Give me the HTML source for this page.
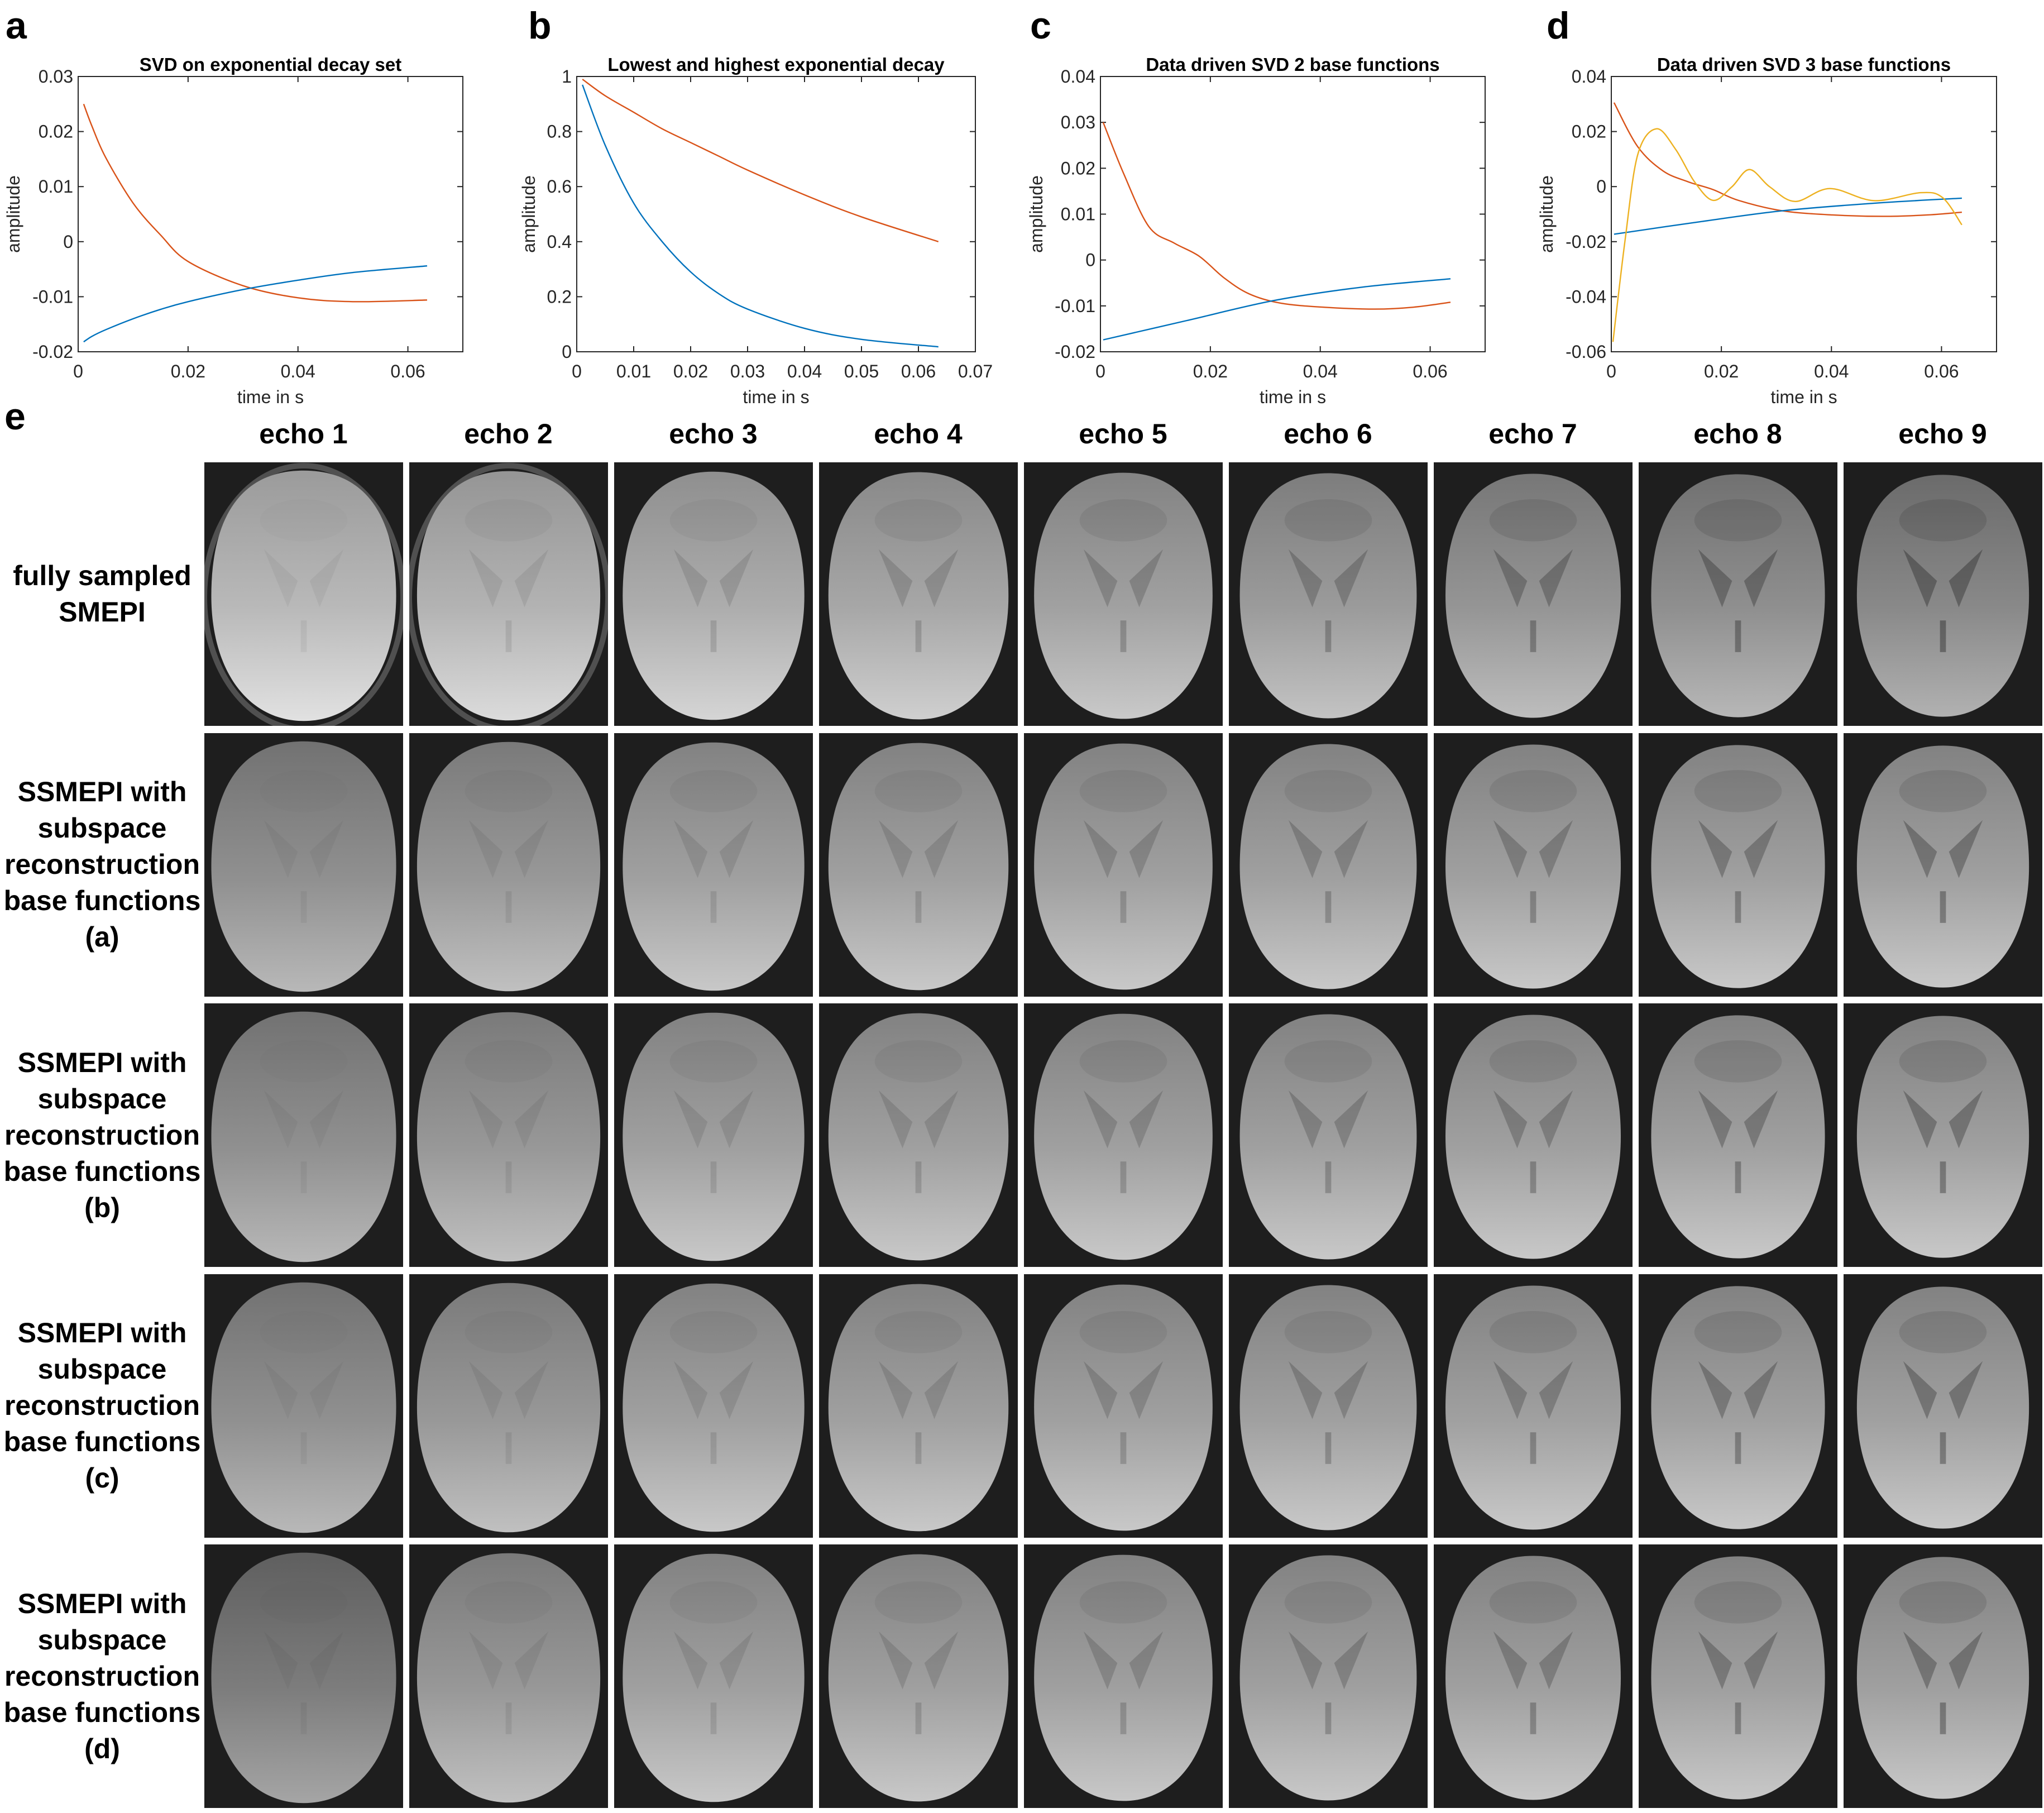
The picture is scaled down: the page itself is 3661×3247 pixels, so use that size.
<!DOCTYPE html>
<html><head><meta charset="utf-8">
<style>
html,body{margin:0;padding:0;background:#fff;}
body{width:3661px;height:3247px;position:relative;overflow:hidden;font-family:"Liberation Sans",sans-serif;}
.pl{position:absolute;font-weight:bold;font-size:68px;line-height:1;color:#000;}
.echo{position:absolute;top:748px;width:355px;text-align:center;font-weight:bold;font-size:50px;}
.rowlab{position:absolute;left:0;width:366px;text-align:center;font-weight:bold;font-size:50px;line-height:65px;}
.cell{position:absolute;}
</style></head>
<body>
<svg id="charts" width="3661" height="760" style="position:absolute;left:0;top:0" font-family="Liberation Sans, sans-serif"></svg>
<div class="pl" style="left:10px;top:12px">a</div>
<div class="pl" style="left:946px;top:12px">b</div>
<div class="pl" style="left:1845px;top:12px">c</div>
<div class="pl" style="left:2770px;top:12px">d</div>
<div class="pl" style="left:8px;top:712px">e</div>
<div id="grid"></div>
<script>
// ---------- chart data ----------
const tA=[0.001,0.0025,0.005,0.01,0.015,0.02,0.03,0.04,0.05,0.0635];
const aOrange=[0.025,0.021,0.0153,0.007,0.0012,-0.0036,-0.008,-0.0102,-0.0109,-0.0106];
const aBlue=[-0.0182,-0.0172,-0.0160,-0.0140,-0.0123,-0.0109,-0.0087,-0.0070,-0.0056,-0.0044];
const tB=[0.001,0.005,0.01,0.015,0.02,0.025,0.03,0.04,0.05,0.0635];
const bBlue=[0.97,0.75,0.54,0.40,0.29,0.21,0.155,0.085,0.045,0.018];
const bOrange=[0.99,0.93,0.87,0.81,0.76,0.71,0.66,0.57,0.49,0.40];
const tC=[0.0005,0.0042,0.0088,0.0134,0.018,0.0225,0.0271,0.0328,0.0408,0.05,0.0568,0.0637];
const cOrange=[0.030,0.0189,0.0073,0.0037,0.0008,-0.0039,-0.0074,-0.0094,-0.0103,-0.0107,-0.0103,-0.0092];
const tC2=[0.0005,0.0157,0.0317,0.0477,0.0637];
const cBlue=[-0.0174,-0.0132,-0.0088,-0.0059,-0.0041];
const tD=[0.0005,0.0048,0.0094,0.0139,0.0185,0.0231,0.0311,0.0402,0.0494,0.0574,0.0637];
const dOrange=[0.0305,0.0145,0.0057,0.0018,-0.0011,-0.0050,-0.0088,-0.0103,-0.0108,-0.0103,-0.0093];
const tD2=[0.0005,0.016,0.031,0.048,0.0637];
const dBlue=[-0.0173,-0.0128,-0.0088,-0.0060,-0.0042];
const tY=[0.0003,0.0025,0.0048,0.0082,0.0117,0.0151,0.0185,0.0219,0.0251,0.0288,0.0334,0.0397,0.0477,0.0562,0.0602,0.0637];
const dYellow=[-0.0564,-0.0195,0.0116,0.0210,0.0135,0.0018,-0.0050,-0.0001,0.0062,-0.0001,-0.0054,-0.0007,-0.0051,-0.0022,-0.0040,-0.0139];
const ticksA=[0.03,0.02,0.01,0,-0.01,-0.02];
const ticksB=[0,0.2,0.4,0.6,0.8,1];
const ticksC=[0.04,0.03,0.02,0.01,0,-0.01,-0.02];
const ticksD=[0.04,0.02,0,-0.02,-0.04,-0.06];
const xTicks=[0,0.02,0.04,0.06];
const xTicksB=[0,0.01,0.02,0.03,0.04,0.05,0.06,0.07];
const BLUE='#0072BD',ORANGE='#D95319',YEL='#EDB120';
const NS='http://www.w3.org/2000/svg';
const svg=document.getElementById('charts');
function mk(tag,attrs,parent){const e=document.createElementNS(NS,tag);for(const k in attrs)e.setAttribute(k,attrs[k]);(parent||svg).appendChild(e);return e;}
function crPath(pts){let d='M'+pts[0][0]+','+pts[0][1];
 for(let i=0;i<pts.length-1;i++){const p0=pts[i-1]||pts[i],p1=pts[i],p2=pts[i+1],p3=pts[i+2]||p2;
  const c1=[p1[0]+(p2[0]-p0[0])/6,p1[1]+(p2[1]-p0[1])/6],c2=[p2[0]-(p3[0]-p1[0])/6,p2[1]-(p3[1]-p1[1])/6];
  d+=' C'+c1[0]+','+c1[1]+' '+c2[0]+','+c2[1]+' '+p2[0]+','+p2[1];}
 return d;}
function chart(name,L,R,ylo,yhi,yt,xt,title,ylabOff,series){
 const T=137,B=630;
 const g=mk('g',{});
 
 
 const X=v=>L+(v-0)/(0.07)*(R-L), Y=v=>B-(v-ylo)/(yhi-ylo)*(B-T);
 mk('rect',{x:L,y:T,width:R-L,height:B-T,fill:'#fff',stroke:'#262626','stroke-width':2},g);
 yt.forEach(v=>{const y=Y(v);
  mk('line',{x1:L,x2:L+10,y1:y,y2:y,stroke:'#262626','stroke-width':2},g);
  mk('line',{x1:R,x2:R-10,y1:y,y2:y,stroke:'#262626','stroke-width':2},g);
  const t=mk('text',{x:L-9,y:y+11,'text-anchor':'end','font-size':32,fill:'#262626'},g);t.textContent=String(v);
  });
 xt.forEach(v=>{const x=X(v);
  mk('line',{x1:x,x2:x,y1:B,y2:B-10,stroke:'#262626','stroke-width':2},g);
  mk('line',{x1:x,x2:x,y1:T,y2:T+10,stroke:'#262626','stroke-width':2},g);
  const t=mk('text',{x:x,y:B+46,'text-anchor':'middle','font-size':32,fill:'#262626'},g);t.textContent=String(v);
  });
 const tt=mk('text',{x:(L+R)/2,y:127,'text-anchor':'middle','font-size':33,'font-weight':'bold',fill:'#000'},g);tt.textContent=title;
 
 const xl=mk('text',{x:(L+R)/2,y:722,'text-anchor':'middle','font-size':32,fill:'#262626'},g);xl.textContent='time in s';
 
 const yl=mk('text',{x:0,y:0,'text-anchor':'middle','font-size':32,fill:'#262626',transform:'translate('+(L-ylabOff+10)+','+((T+B)/2)+') rotate(-90)'},g);yl.textContent='amplitude';
 
 series.forEach(s=>{const pts=s.t.map((t,i)=>[X(t),Y(s.v[i])]);
  const p=mk('path',{d:crPath(pts),fill:'none',stroke:s.c,'stroke-width':2.4},g);
  });
}
chart('chart-a',140,829,-0.02,0.03,ticksA,xTicks,'SVD on exponential decay set',115,[{t:tA,v:aOrange,c:ORANGE,n:'line-orange'},{t:tA,v:aBlue,c:BLUE,n:'line-blue'}]);
chart('chart-b',1033,1747,0,1,ticksB,xTicksB,'Lowest and highest exponential decay',85,[{t:tB,v:bBlue,c:BLUE,n:'line-blue'},{t:tB,v:bOrange,c:ORANGE,n:'line-orange'}]);
chart('chart-c',1971,2660,-0.02,0.04,ticksC,xTicks,'Data driven SVD 2 base functions',114,[{t:tC,v:cOrange,c:ORANGE,n:'line-orange'},{t:tC2,v:cBlue,c:BLUE,n:'line-blue'}]);
chart('chart-d',2886,3576,-0.06,0.04,ticksD,xTicks,'Data driven SVD 3 base functions',115,[{t:tD,v:dOrange,c:ORANGE,n:'line-orange'},{t:tD2,v:dBlue,c:BLUE,n:'line-blue'},{t:tY,v:dYellow,c:YEL,n:'line-yellow'}]);

// ---------- image grid ----------
const grid=document.getElementById('grid');
const colX0=366,colPitch=367,cw=356,rowY0=828,rowPitch=484.5,ch=472;
const rowLabels=[['fully sampled','SMEPI'],['SSMEPI with','subspace','reconstruction','base functions','(a)'],['SSMEPI with','subspace','reconstruction','base functions','(b)'],['SSMEPI with','subspace','reconstruction','base functions','(c)'],['SSMEPI with','subspace','reconstruction','base functions','(d)']];
for(let c=0;c<9;c++){const d=document.createElement('div');d.className='echo';d.style.left=(colX0+c*colPitch)+'px';d.textContent='echo '+(c+1);
 
 
 document.body.appendChild(d);}
rowLabels.forEach((lines,r)=>{const d=document.createElement('div');d.className='rowlab';
 d.innerHTML=lines.join('<br>');const h=lines.length*65;d.style.top=(rowY0+r*rowPitch+ch/2-h/2)+'px';
 
 
 document.body.appendChild(d);});
let uid=0;
function brain(r,c){
 const x=colX0+c*colPitch,y=Math.round(rowY0+r*rowPitch);
 const s=document.createElementNS(NS,'svg');s.setAttribute('width',cw);s.setAttribute('height',ch);
 s.setAttribute('class','cell');s.style.left=x+'px';s.style.top=y+'px';
 
 
 grid.appendChild(s);
 const id='g'+(uid++);
 let base=r===0?(185-c*6):(160-Math.max(0,2-c)*8);
 if(r===4&&c===0)base=125;
 const lo=base-30,hi=Math.min(230,base+40);
 const defs=mk('defs',{},s);
 const lg=mk('linearGradient',{id:id,x1:0,y1:0,x2:0,y2:1},defs);
 mk('stop',{offset:'0','stop-color':'rgb('+lo+','+lo+','+lo+')'},lg);
 mk('stop',{offset:'0.55','stop-color':'rgb('+base+','+base+','+base+')'},lg);
 mk('stop',{offset:'1','stop-color':'rgb('+hi+','+hi+','+hi+')'},lg);
 mk('rect',{x:0,y:0,width:cw,height:ch,fill:'#1e1e1e'},s);
 if(r===0&&c<2) mk('ellipse',{cx:cw/2,cy:ch/2+6,rx:cw*0.5,ry:ch*0.5,fill:'none',stroke:'#505050','stroke-width':10},s);
 const cx=cw/2,cy=ch/2+3,rx=cw*(0.465-c*0.004),ry=ch*(0.475-c*0.002);
 // rounded brain outline (slightly narrower at top)
 mk('path',{d:'M'+cx+','+(cy-ry)+
  ' C'+(cx+rx*0.75)+','+(cy-ry)+' '+(cx+rx)+','+(cy-ry*0.55)+' '+(cx+rx)+','+cy+
  ' C'+(cx+rx)+','+(cy+ry*0.6)+' '+(cx+rx*0.6)+','+(cy+ry)+' '+cx+','+(cy+ry)+
  ' C'+(cx-rx*0.6)+','+(cy+ry)+' '+(cx-rx)+','+(cy+ry*0.6)+' '+(cx-rx)+','+cy+
  ' C'+(cx-rx)+','+(cy-ry*0.55)+' '+(cx-rx*0.75)+','+(cy-ry)+' '+cx+','+(cy-ry)+'Z',fill:'url(#'+id+')'},s);
 const k=Math.min(1,0.15+c*0.1)*(r===0?1:0.9);
 const dk='rgba(20,20,20,'+(0.35*k)+')';
 mk('path',{d:'M'+cw*0.3+','+ch*0.33+' L'+cw*0.47+','+ch*0.45+' L'+cw*0.42+','+ch*0.55+' Z',fill:dk},s);
 mk('path',{d:'M'+cw*0.7+','+ch*0.33+' L'+cw*0.53+','+ch*0.45+' L'+cw*0.58+','+ch*0.55+' Z',fill:dk},s);
 mk('rect',{x:cw*0.485,y:ch*0.6,width:cw*0.03,height:ch*0.12,fill:'rgba(20,20,20,'+(0.4*k)+')'},s);
 mk('ellipse',{cx:cw*0.5,cy:ch*0.22,rx:cw*0.22,ry:ch*0.08,fill:'rgba(30,30,30,'+(0.15*k)+')'},s);
}
for(let r=0;r<5;r++)for(let c=0;c<9;c++)brain(r,c);
</script>
</body></html>
